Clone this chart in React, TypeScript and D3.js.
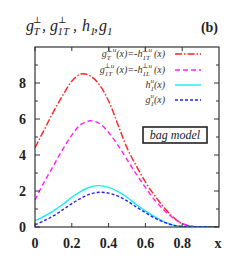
import React from "react";
import * as d3 from "d3";

const xs = [0, 0.05, 0.1, 0.15, 0.2, 0.25, 0.3, 0.35, 0.4, 0.45, 0.5, 0.55, 0.6, 0.65, 0.7, 0.75, 0.8, 0.85, 0.9, 0.95, 1.0];
const gTperp = [4.4, 5.4, 6.4, 7.3, 8.1, 8.5, 8.4, 7.9, 7.0, 5.7, 4.4, 3.4, 2.5, 1.75, 1.1, 0.55, 0.18, 0.04, 0.0, 0.0, 0.0];
const g1Tperp = [1.5, 2.5, 3.4, 4.3, 5.1, 5.7, 5.9, 5.75, 5.25, 4.55, 3.75, 2.95, 2.2, 1.5, 0.95, 0.5, 0.2, 0.05, 0.0, 0.0, 0.0];
const h1 = [0.35, 0.6, 0.9, 1.25, 1.65, 1.98, 2.22, 2.3, 2.2, 1.98, 1.65, 1.25, 0.9, 0.58, 0.3, 0.12, 0.03, 0.0, 0.0, 0.0, 0.0];
const g1 = [0.12, 0.35, 0.62, 0.95, 1.3, 1.6, 1.83, 1.93, 1.88, 1.72, 1.45, 1.12, 0.8, 0.5, 0.27, 0.1, 0.03, 0.0, 0.0, 0.0, 0.0];

const xTicks = [0, 0.2, 0.4, 0.6, 0.8];
const xTickLabels = ["0", "0.2", "0.4", "0.6", "0.8"];
const yTicks = [0, 2, 4, 6, 8];
const yMinor = [1, 3, 5, 7, 9];

const W = 245, H = 258;
const L = 35, R = 219, T = 47, B = 227;

export default function App() {
  const x = d3.scaleLinear().domain([0, 1]).range([L, R]);
  const y = d3.scaleLinear().domain([0, 10]).range([B, T]);
  const line = (vals: number[]) =>
    d3.line<number>().x((_, i) => x(xs[i])).y((d) => y(d)).curve(d3.curveCatmullRom)(vals) as string;

  const series = [
    { vals: gTperp, color: "#ff2020", dash: "7,2,1.5,2" },
    { vals: g1Tperp, color: "#ff20ff", dash: "5,3" },
    { vals: h1, color: "#10f0f0", dash: "" },
    { vals: g1, color: "#2020ff", dash: "3,2" },
  ];

  const serif = "'Liberation Serif', 'DejaVu Serif', serif";
  const legY = [57, 73, 88, 103];
  const legFs = 10;

  return (
    <svg width={W} height={H} style={{ position: "absolute", left: 0, top: 0, background: "#fff" }} fontFamily={serif}>
      <defs>
        <clipPath id="clip">
          <rect x={L} y={T} width={R - L} height={B - T} />
        </clipPath>
      </defs>
      {/* title */}
      <text fontStyle="italic" fontSize={16} fill="#222">
        <tspan x={26} y={31}>g</tspan>
        <tspan x={33.5} y={35} fontSize={11}>T</tspan>
        <tspan x={33} y={23} fontSize={9} fontStyle="normal">⊥</tspan>
        <tspan x={42} y={31}>,</tspan>
        <tspan x={50} y={31}>g</tspan>
        <tspan x={57.5} y={35} fontSize={11}>1T</tspan>
        <tspan x={58} y={23} fontSize={9} fontStyle="normal">⊥</tspan>
        <tspan x={73} y={31}>,</tspan>
        <tspan x={82} y={31}>h</tspan>
        <tspan x={90} y={35} fontSize={11}>1</tspan>
        <tspan x={94} y={31}>,</tspan>
        <tspan x={99} y={31}>g</tspan>
        <tspan x={107} y={35} fontSize={11}>1</tspan>
      </text>
      <text x={218} y={32} textAnchor="end" fontWeight="bold" fontSize={14} fill="#222">(b)</text>

      {/* curves */}
      <g clipPath="url(#clip)">
        {series.map((s, i) => (
          <path key={i} d={line(s.vals)} fill="none" stroke={s.color} strokeWidth={1.4} strokeDasharray={s.dash} />
        ))}
      </g>

      {/* frame */}
      <rect x={L} y={T} width={R - L} height={B - T} fill="none" stroke="#333" strokeWidth={1.2} />
      {xTicks.map((t) => (
        <g key={"x" + t} stroke="#333" strokeWidth={1}>
          <line x1={x(t)} x2={x(t)} y1={B} y2={B - 4} />
          <line x1={x(t)} x2={x(t)} y1={T} y2={T + 4} />
        </g>
      ))}
      {yTicks.map((t) => (
        <g key={"y" + t} stroke="#333" strokeWidth={1}>
          <line x1={L} x2={L + 5} y1={y(t)} y2={y(t)} />
          <line x1={R} x2={R - 5} y1={y(t)} y2={y(t)} />
        </g>
      ))}
      {yMinor.map((t) => (
        <g key={"ym" + t} stroke="#333" strokeWidth={1}>
          <line x1={L} x2={L + 3} y1={y(t)} y2={y(t)} />
          <line x1={R} x2={R - 3} y1={y(t)} y2={y(t)} />
        </g>
      ))}
      {/* tick labels */}
      <g fontWeight="bold" fontSize={14} fill="#222">
        {xTicks.map((t, i) => (
          <text key={"xl" + t} x={x(t)} y={248} textAnchor="middle">{xTickLabels[i]}</text>
        ))}
        <text x={218} y={248} textAnchor="middle">x</text>
        {yTicks.map((t) => (
          <text key={"yl" + t} x={26} y={y(t) + 5} textAnchor="end">{t}</text>
        ))}
      </g>

      {/* legend */}
      <g fontSize={legFs} fontStyle="italic" fill="#333" textAnchor="end">
        <text x={165} y={legY[0]}>
          g<tspan fontSize={7} dy={3}>T</tspan>
          <tspan fontSize={7} dx={-4.5} dy={-8} fontStyle="normal">⊥</tspan><tspan fontSize={7}>u</tspan>
          <tspan dy={5}>(x)=-h</tspan>
          <tspan fontSize={7} dy={3}>1T</tspan>
          <tspan fontSize={7} dx={-8} dy={-8} fontStyle="normal">⊥</tspan><tspan fontSize={7}>u</tspan>
          <tspan dy={5} dx={2}>(x)</tspan>
        </text>
        <text x={165} y={legY[1]}>
          g<tspan fontSize={7} dy={3}>1T</tspan>
          <tspan fontSize={7} dx={-8} dy={-8} fontStyle="normal">⊥</tspan><tspan fontSize={7}>u</tspan>
          <tspan dy={5} dx={2}>(x)=-h</tspan>
          <tspan fontSize={7} dy={3}>1L</tspan>
          <tspan fontSize={7} dx={-8} dy={-8} fontStyle="normal">⊥</tspan><tspan fontSize={7}>u</tspan>
          <tspan dy={5} dx={2}>(x)</tspan>
        </text>
        <text x={165} y={legY[2]}>
          h<tspan fontSize={7} dy={3}>1</tspan>
          <tspan fontSize={7} dx={-3.5} dy={-8}>u</tspan>
          <tspan dy={5}>(x)</tspan>
        </text>
        <text x={165} y={legY[3]}>
          g<tspan fontSize={7} dy={3}>1</tspan>
          <tspan fontSize={7} dx={-3.5} dy={-8}>u</tspan>
          <tspan dy={5}>(x)</tspan>
        </text>
      </g>
      {series.map((s, i) => (
        <line key={"lg" + i} x1={175} x2={201} y1={legY[i] - 3} y2={legY[i] - 3} stroke={s.color} strokeWidth={1.4} strokeDasharray={s.dash} />
      ))}

      {/* bag model box */}
      <rect x={143} y={127} width={64} height={16} fill="#fff" stroke="#222" strokeWidth={1.6} />
      <text x={175} y={139} textAnchor="middle" fontStyle="italic" fontSize={12} fill="#222">bag model</text>
    </svg>
  );
}
